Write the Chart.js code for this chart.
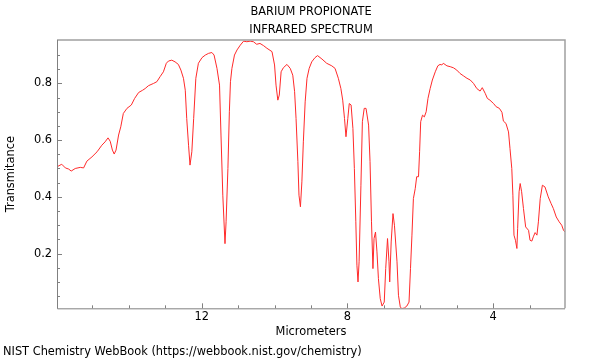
<!DOCTYPE html>
<html>
<head>
<meta charset="utf-8">
<script src="https://cdn.jsdelivr.net/npm/chart.js@4/dist/chart.umd.min.js"></script>
<style>
  html, body { margin: 0; padding: 0; background: #fff; }
  #wrap { width: 600px; height: 360px; }
</style>
</head>
<body>
<div id="wrap"><canvas id="irChart" width="600" height="360"></canvas></div>
<script>
// Barium propionate IR spectrum
const titleLines = ['BARIUM PROPIONATE', 'INFRARED SPECTRUM'];
const xLabel = 'Micrometers';
const yLabel = 'Transmitance';
const footer = 'NIST Chemistry WebBook (https://webbook.nist.gov/chemistry)';

const xMajorTicks = [4, 8, 12];
const xMinorTicks = [3, 5, 6, 7, 9, 10, 11, 13, 14, 15];
const yMajorTicks = [0.2, 0.4, 0.6, 0.8];
const yMinorTicks = [0.05, 0.1, 0.15, 0.25, 0.3, 0.35, 0.45, 0.5, 0.55, 0.65, 0.7, 0.75, 0.85, 0.9];

const wavelength = [
  15.97, 15.84, 15.74, 15.65, 15.58, 15.47, 15.33, 15.24, 15.15, 15.01,
  14.87, 14.74, 14.65, 14.57, 14.51, 14.45, 14.40, 14.35, 14.28, 14.22,
  14.15, 14.05, 13.93, 13.84, 13.73, 13.62, 13.55, 13.46, 13.32, 13.23,
  13.14, 13.05, 12.97, 12.91, 12.82, 12.73, 12.64, 12.57, 12.50, 12.45,
  12.41, 12.36, 12.32, 12.27, 12.22, 12.16, 12.09, 11.99, 11.90, 11.81,
  11.72, 11.66, 11.58, 11.51, 11.47, 11.42, 11.36, 11.33, 11.28, 11.24,
  11.21, 11.17, 11.10, 11.03, 10.94, 10.85, 10.76, 10.67, 10.58, 10.49,
  10.40, 10.30, 10.21, 10.07, 10.00, 9.96, 9.91, 9.87, 9.82, 9.76,
  9.66, 9.57, 9.50, 9.45, 9.41, 9.36, 9.33, 9.29, 9.25, 9.21,
  9.16, 9.11, 9.05, 8.98, 8.89, 8.82, 8.70, 8.57, 8.43, 8.34,
  8.25, 8.18, 8.13, 8.08, 8.04, 7.99, 7.95, 7.90, 7.85, 7.81,
  7.77, 7.74, 7.71, 7.68, 7.63, 7.59, 7.54, 7.49, 7.42, 7.38,
  7.34, 7.30, 7.27, 7.23, 7.19, 7.15, 7.10, 7.05, 6.99, 6.95,
  6.90, 6.86, 6.84, 6.80, 6.75, 6.71, 6.64, 6.60, 6.55, 6.51,
  6.44, 6.37, 6.31, 6.27, 6.23, 6.19, 6.14, 6.10, 6.05, 6.02,
  5.99, 5.94, 5.89, 5.84, 5.79, 5.73, 5.67, 5.59, 5.52, 5.46,
  5.41, 5.37, 5.27, 5.18, 5.09, 5.00, 4.91, 4.82, 4.72, 4.63,
  4.54, 4.45, 4.36, 4.30, 4.22, 4.16, 4.09, 3.99, 3.92, 3.83,
  3.76, 3.72, 3.65, 3.58, 3.54, 3.49, 3.46, 3.43, 3.39, 3.35,
  3.33, 3.29, 3.26, 3.22, 3.17, 3.11, 3.03, 2.99, 2.94, 2.90,
  2.85, 2.80, 2.76, 2.71, 2.65, 2.58, 2.49, 2.41, 2.35, 2.27,
  2.19, 2.12, 2.07, 2.03
];
const transmittance = [
  0.506, 0.515, 0.502, 0.498, 0.491, 0.500, 0.504, 0.502, 0.526, 0.541,
  0.559, 0.582, 0.594, 0.608, 0.596, 0.565, 0.551, 0.565, 0.618, 0.647,
  0.694, 0.712, 0.724, 0.747, 0.768, 0.776, 0.782, 0.792, 0.800, 0.806,
  0.824, 0.841, 0.871, 0.879, 0.882, 0.876, 0.867, 0.847, 0.818, 0.776,
  0.676, 0.582, 0.512, 0.559, 0.676, 0.818, 0.871, 0.891, 0.900, 0.906,
  0.909, 0.900, 0.853, 0.794, 0.618, 0.406, 0.235, 0.312, 0.500, 0.700,
  0.806, 0.853, 0.900, 0.918, 0.935, 0.949, 0.947, 0.949, 0.947, 0.938,
  0.941, 0.933, 0.924, 0.912, 0.865, 0.794, 0.741, 0.759, 0.841, 0.855,
  0.867, 0.853, 0.829, 0.771, 0.676, 0.524, 0.406, 0.365, 0.453, 0.594,
  0.735, 0.818, 0.853, 0.876, 0.891, 0.898, 0.886, 0.871, 0.862, 0.853,
  0.818, 0.782, 0.741, 0.676, 0.612, 0.676, 0.729, 0.724, 0.641, 0.500,
  0.312, 0.159, 0.100, 0.171, 0.441, 0.665, 0.712, 0.712, 0.653, 0.524,
  0.312, 0.147, 0.253, 0.276, 0.206, 0.112, 0.041, 0.015, 0.029, 0.147,
  0.253, 0.171, 0.100, 0.241, 0.341, 0.300, 0.171, 0.053, 0.012, 0.006,
  0.008, 0.015, 0.029, 0.147, 0.265, 0.394, 0.429, 0.471, 0.471, 0.559,
  0.665, 0.688, 0.682, 0.700, 0.747, 0.782, 0.812, 0.841, 0.862, 0.867,
  0.865, 0.871, 0.862, 0.859, 0.855, 0.847, 0.835, 0.827, 0.818, 0.812,
  0.800, 0.782, 0.773, 0.785, 0.765, 0.747, 0.741, 0.729, 0.718, 0.712,
  0.698, 0.667, 0.659, 0.629, 0.571, 0.500, 0.406, 0.265, 0.247, 0.218,
  0.288, 0.418, 0.447, 0.418, 0.359, 0.294, 0.282, 0.247, 0.244, 0.259,
  0.274, 0.265, 0.312, 0.394, 0.441, 0.435, 0.400, 0.376, 0.359, 0.329,
  0.312, 0.300, 0.282, 0.276
];

const FONT = 'DejaVu Sans';
const FSIZE = 11.4;

// inward tick marks + box frame, placed through the scales
const frameAndTicks = {
  id: 'frameAndTicks',
  afterDraw(chart) {
    const { ctx, chartArea: a } = chart;
    const x = chart.scales.x, y = chart.scales.y;
    ctx.save();
    ctx.lineWidth = 1.5;
    ctx.strokeStyle = '#a0a0a0';
    ctx.beginPath();
    ctx.moveTo(a.left, a.top);
    ctx.lineTo(a.right, a.top);
    ctx.lineTo(a.right, a.bottom);
    ctx.stroke();

    ctx.lineWidth = 1;
    ctx.strokeStyle = '#808080';
    ctx.beginPath();
    ctx.moveTo(a.left + 0.5, a.top);
    ctx.lineTo(a.left + 0.5, a.bottom + 0.5);
    ctx.lineTo(a.right, a.bottom + 0.5);
    ctx.stroke();

    ctx.beginPath();
    xMajorTicks.concat(xMinorTicks).forEach(v => {
      const px = Math.round(x.getPixelForValue(v)) + 0.5;
      const len = xMajorTicks.includes(v) ? 5 : 3;
      ctx.moveTo(px, a.bottom);
      ctx.lineTo(px, a.bottom - len);
    });
    yMajorTicks.concat(yMinorTicks).forEach(v => {
      const py = Math.round(y.getPixelForValue(v)) + 0.5;
      const len = yMajorTicks.includes(v) ? 5 : 3;
      ctx.moveTo(a.left, py);
      ctx.lineTo(a.left + len, py);
    });
    ctx.stroke();
    ctx.restore();
  }
};

const points = wavelength.map((w, i) => ({ x: w, y: transmittance[i] }));

new Chart(document.getElementById('irChart'), {
  type: 'line',
  data: {
    datasets: [{
      data: points,
      borderColor: '#ff2a2a',
      borderWidth: 1,
      pointRadius: 0,
      tension: 0,
      fill: false
    }]
  },
  options: {
    responsive: false,
    animation: false,
    layout: { padding: { left: 3, right: 35, top: 0, bottom: 0 } },
    plugins: {
      legend: { display: false },
      tooltip: { enabled: false },
      title: {
        display: true,
        text: titleLines,
        fullSize: false,
        color: '#000',
        font: { family: FONT, size: FSIZE, weight: 'normal', lineHeight: 1.58 },
        padding: { top: 3, bottom: 1 }
      },
      subtitle: {
        display: true,
        position: 'bottom',
        align: 'start',
        text: footer,
        color: '#000',
        font: { family: FONT, size: FSIZE, weight: 'normal', lineHeight: 1.2 },
        padding: { top: 0, bottom: 1 }
      }
    },
    scales: {
      x: {
        type: 'linear',
        reverse: true,
        min: 2.03,
        max: 15.97,
        afterBuildTicks: s => { s.ticks = xMajorTicks.map(v => ({ value: v })); },
        afterFit: s => { s.height = 37; },
        grid: { display: false, drawTicks: false },
        border: { display: false },
        ticks: {
          autoSkip: false,
          maxRotation: 0,
          padding: 2,
          color: '#000',
          font: { family: FONT, size: FSIZE },
          callback: v => String(v)
        },
        title: {
          display: true,
          text: xLabel,
          color: '#000',
          font: { family: FONT, size: FSIZE },
          padding: { top: 1, bottom: 6 }
        }
      },
      y: {
        type: 'linear',
        min: 0.007,
        max: 0.953,
        afterBuildTicks: s => { s.ticks = yMajorTicks.map(v => ({ value: v })); },
        afterFit: s => { s.width = 54; },
        grid: { display: false, drawTicks: false },
        border: { display: false },
        ticks: {
          autoSkip: false,
          padding: 5,
          color: '#000',
          font: { family: FONT, size: FSIZE },
          callback: v => v.toFixed(1)
        },
        title: {
          display: true,
          text: yLabel,
          color: '#000',
          font: { family: FONT, size: FSIZE },
          padding: { top: 1, bottom: 0 }
        }
      }
    }
  },
  plugins: [frameAndTicks]
});
</script>
</body>
</html>
